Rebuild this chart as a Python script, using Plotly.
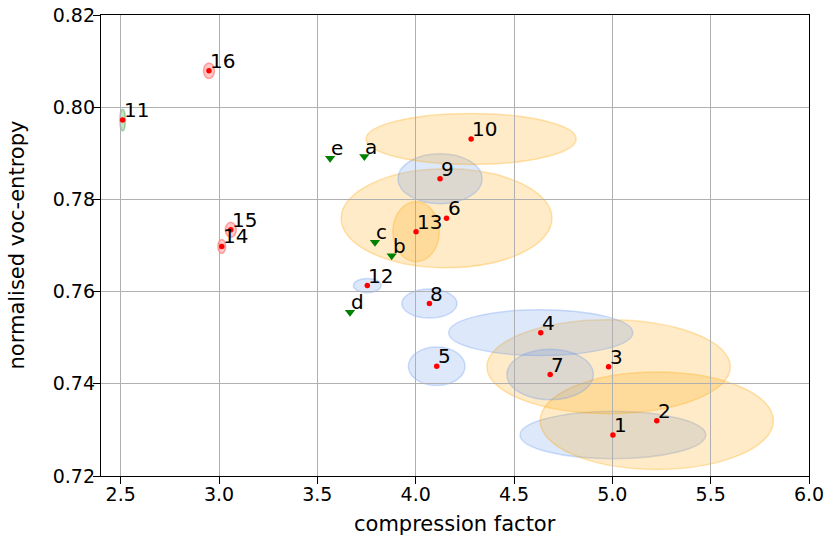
import plotly.graph_objects as go

# ---- data ----
point_labels = [str(i) for i in range(1, 17)]
point_x = [5.003, 5.226, 4.981, 4.636, 4.107, 4.157, 4.684, 4.070, 4.124, 4.282,
           2.510, 3.754, 4.002, 3.014, 3.060, 2.949]
point_y = [0.7289, 0.7320, 0.7437, 0.7511, 0.7438, 0.7759, 0.7420, 0.7574, 0.7845, 0.7931,
           0.7972, 0.7613, 0.7730, 0.7698, 0.7734, 0.8079]
# spread (semi-axes) of each point's ellipse
spread_x = [0.472, 0.593, 0.619, 0.468, 0.144, 0.536, 0.220, 0.140, 0.214, 0.534,
            0.014, 0.070, 0.118, 0.020, 0.028, 0.028]
spread_y = [0.00514, 0.01057, 0.01018, 0.00498, 0.00418, 0.01073, 0.00548, 0.00314, 0.00542, 0.00553,
            0.00234, 0.00156, 0.00650, 0.00152, 0.00163, 0.00169]
groups = ["blue", "orange", "orange", "blue", "blue", "orange", "blue", "blue", "blue", "orange",
          "green", "blue", "orange", "red", "red", "red"]

ref_labels = ["a", "b", "c", "d", "e"]
ref_x = [3.739, 3.878, 3.793, 3.666, 3.565]
ref_y = [0.7893, 0.7678, 0.7707, 0.7555, 0.7889]

x_ticks = [2.5, 3.0, 3.5, 4.0, 4.5, 5.0, 5.5, 6.0]
y_ticks = [0.72, 0.74, 0.76, 0.78, 0.80, 0.82]
x_title = "compression factor"
y_title = "normalised voc-entropy"

# ---- styles ----
group_rgb = {"blue": (100, 149, 237), "orange": (255, 165, 0),
             "green": (0, 128, 0), "red": (255, 0, 0)}
FONT = "DejaVu Sans"

fig = go.Figure()

shapes = []
for cx, cy, sx, sy, g in zip(point_x, point_y, spread_x, spread_y, groups):
    r, gg, b = group_rgb[g]
    shapes.append(dict(
        type="circle", xref="x", yref="y",
        x0=cx - sx, x1=cx + sx, y0=cy - sy, y1=cy + sy,
        fillcolor=f"rgba({r},{gg},{b},0.22)",
        line=dict(color=f"rgba({r},{gg},{b},0.30)", width=1.5),
        layer="below",
    ))

fig.add_trace(go.Scatter(
    x=point_x, y=point_y, mode="markers",
    marker=dict(color="red", size=5.5, line=dict(width=0)),
    showlegend=False, hoverinfo="skip",
))
fig.add_trace(go.Scatter(
    x=ref_x, y=ref_y, mode="markers",
    marker=dict(color="green", symbol="triangle-down", size=9, line=dict(width=0)),
    showlegend=False, hoverinfo="skip",
))

annotations = []
for lx, ly, t in list(zip(point_x, point_y, point_labels)) + list(zip(ref_x, ref_y, ref_labels)):
    annotations.append(dict(
        x=lx, y=ly, xref="x", yref="y", text=t, showarrow=False,
        xanchor="left", yanchor="bottom", xshift=-1, yshift=-4,
        font=dict(family=FONT, size=20, color="black"),
    ))
# axis titles
annotations.append(dict(
    x=0.5, y=0, xref="paper", yref="paper", text=x_title, showarrow=False,
    xanchor="center", yanchor="middle", yshift=-48,
    font=dict(family=FONT, size=21, color="black"),
))
annotations.append(dict(
    x=0, y=0.5, xref="paper", yref="paper", text=y_title, showarrow=False,
    xanchor="center", yanchor="middle", xshift=-85, textangle=-90,
    font=dict(family=FONT, size=21, color="black"),
))

axis_common = dict(
    showline=True, mirror=True, linecolor="black", linewidth=1.3,
    ticks="outside", ticklen=7, tickwidth=1.3, tickcolor="black",
    showgrid=True, gridcolor="#b0b0b0", gridwidth=1, zeroline=False,
    automargin=False, ticklabelstandoff=-6, ticklabeloverflow="allow",
    tickfont=dict(family=FONT, size=19, color="black"),
)

fig.update_layout(
    width=828, height=545,
    margin=dict(l=101, r=19, t=15, b=68.5),
    paper_bgcolor="white", plot_bgcolor="white",
    shapes=shapes, annotations=annotations,
    xaxis=dict(range=[2.4, 6.0], tickvals=x_ticks,
               ticktext=[f"{v:.1f}" for v in x_ticks], **axis_common),
    yaxis=dict(range=[0.72, 0.82], tickvals=y_ticks,
               ticktext=[f"{v:.2f}" for v in y_ticks], **axis_common),
)

fig.write_html("out.html",
               config={"displayModeBar": False},
               post_script="document.body.style.margin='0px';document.body.style.overflow='hidden';")
